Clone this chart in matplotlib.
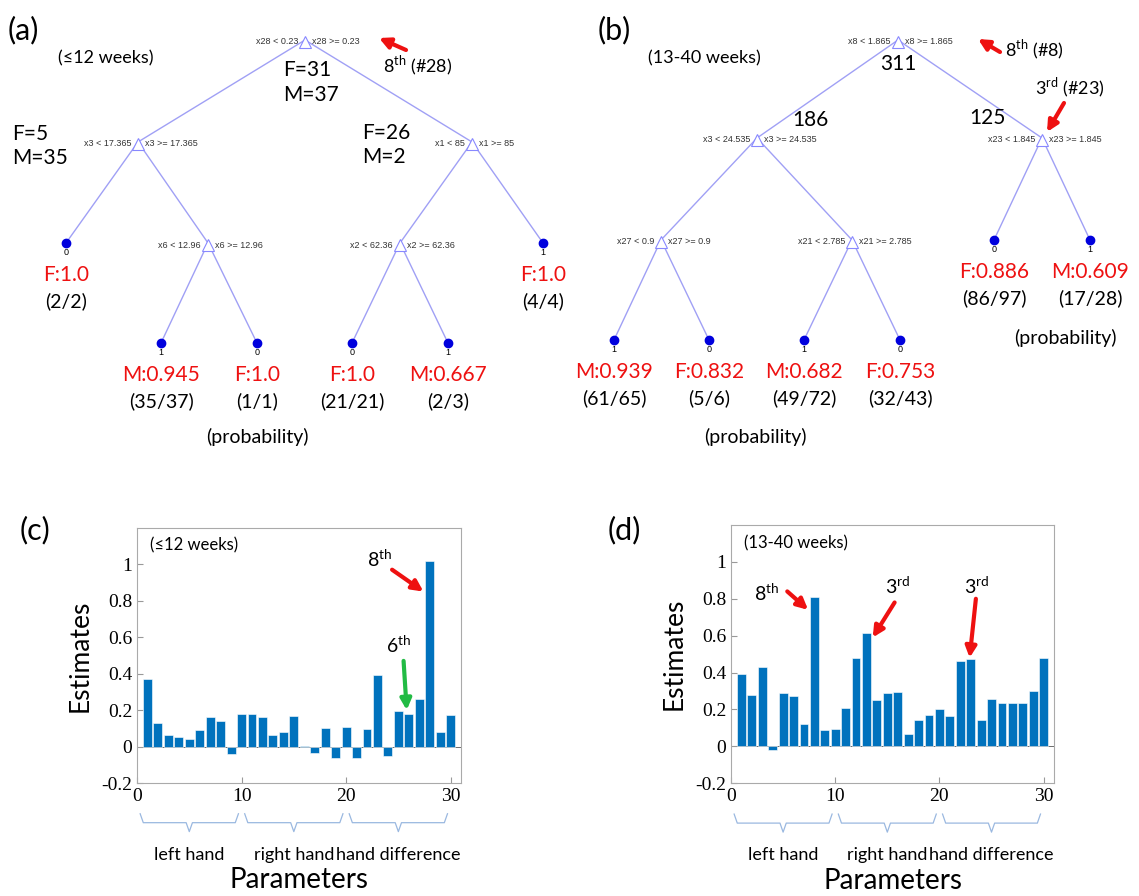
import numpy as np
import matplotlib
matplotlib.use("Agg")
import matplotlib.pyplot as plt
from matplotlib.transforms import blended_transform_factory

# =====================================================
# DATA
# =====================================================

params = np.arange(1, 31)
est_early = [0.37, 0.13, 0.065, 0.055, 0.04, 0.09, 0.16, 0.14, -0.04, 0.18,
             0.18, 0.16, 0.065, 0.08, 0.17, 0.003, -0.035, 0.10, -0.065, 0.11,
             -0.065, 0.095, 0.395, -0.05, 0.195, 0.18, 0.26, 1.015, 0.08, 0.175]
est_late = [0.39, 0.28, 0.43, -0.02, 0.29, 0.275, 0.12, 0.81, 0.09, 0.095,
            0.21, 0.48, 0.615, 0.25, 0.29, 0.295, 0.065, 0.145, 0.17, 0.20,
            0.165, 0.465, 0.475, 0.145, 0.255, 0.235, 0.235, 0.235, 0.30, 0.48]
groups = ["left hand", "right hand", "hand difference"]
group_ranges = [(0, 10), (10, 20), (20, 30)]

# tree (a): split nodes (x, y, left text, right text)
splits_a = [(305, 40, "x28 < 0.23", "x28 >= 0.23"),
            (138, 142, "x3 < 17.365", "x3 >= 17.365"),
            (472, 142, "x1 < 85", "x1 >= 85"),
            (208, 243, "x6 < 12.96", "x6 >= 12.96"),
            (400, 243, "x2 < 62.36", "x2 >= 62.36")]
edges_a = [(0, 1), (0, 2), (1, "l0"), (1, 3), (2, 4), (2, "l1"),
           (3, "l2"), (3, "l3"), (4, "l4"), (4, "l5")]
leaves_a = {"l0": (66, 243, "0", "F:1.0", "(2/2)"),
            "l1": (543, 243, "1", "F:1.0", "(4/4)"),
            "l2": (161, 343, "1", "M:0.945", "(35/37)"),
            "l3": (257, 343, "0", "F:1.0", "(1/1)"),
            "l4": (352, 343, "0", "F:1.0", "(21/21)"),
            "l5": (448, 343, "1", "M:0.667", "(2/3)")}

# tree (b)
splits_b = [(898, 40, "x8 < 1.865", "x8 >= 1.865"),
            (757, 138, "x3 < 24.535", "x3 >= 24.535"),
            (1042, 138, "x23 < 1.845", "x23 >= 1.845"),
            (661, 240, "x27 < 0.9", "x27 >= 0.9"),
            (852, 240, "x21 < 2.785", "x21 >= 2.785")]
edges_b = [(0, 1), (0, 2), (1, 3), (1, 4), (2, "l0"), (2, "l1"),
           (3, "l2"), (3, "l3"), (4, "l4"), (4, "l5")]
leaves_b = {"l0": (994, 240, "0", "F:0.886", "(86/97)"),
            "l1": (1090, 240, "1", "M:0.609", "(17/28)"),
            "l2": (614, 340, "1", "M:0.939", "(61/65)"),
            "l3": (709, 340, "0", "F:0.832", "(5/6)"),
            "l4": (804, 340, "1", "M:0.682", "(49/72)"),
            "l5": (900, 340, "0", "F:0.753", "(32/43)")}

BAR = "#0072BD"
LINE = "#a0a0f5"
SMALL = "Liberation Sans"
SERIF = "Liberation Serif"

plt.rcParams['font.family'] = ['Lato', 'DejaVu Sans']
plt.rcParams['mathtext.fontset'] = 'custom'
plt.rcParams['mathtext.rm'] = 'Lato'

fig = plt.figure(figsize=(11.39, 8.96), dpi=100)
ov = fig.add_axes([0, 0, 1, 1])
ov.set_xlim(0, 1139)
ov.set_ylim(896, 0)
ov.axis("off")


def draw_tree(splits, edges, leaves):
    def pos(k):
        if isinstance(k, str):
            return leaves[k][:2]
        return splits[k][:2]
    for a, b in edges:
        (x0, y0), (x1, y1) = pos(a), pos(b)
        ov.plot([x0, x1], [y0, y1], color=LINE, lw=1, zorder=1)
    for x, y, lt, rt in splits:
        ov.plot(x, y + 2, marker="^", ms=9, mfc="white", mec="#8888ff", mew=0.8, zorder=3)
        ov.text(x - 7, y + 2, lt, ha="right", va="center", fontsize=6.5,
                color="#333333", family=SMALL)
        ov.text(x + 7, y + 2, rt, ha="left", va="center", fontsize=6.5,
                color="#333333", family=SMALL)
    for x, y, cls, prob, frac in leaves.values():
        ov.plot(x, y, "o", ms=6, color="#0000dd", zorder=3)
        ov.text(x, y + 5, cls, ha="center", va="top", fontsize=6.5, family=SMALL)
        ov.text(x, y + 32, prob, ha="center", va="center", fontsize=15, color="#ee1111")
        ov.text(x, y + 58, frac, ha="center", va="center", fontsize=14)


def red_arrow(x0, y0, x1, y1, color="#ee1111"):
    ov.annotate("", xy=(x1, y1), xytext=(x0, y0),
                arrowprops=dict(arrowstyle="-|>", color=color, lw=3, mutation_scale=16,
                                shrinkA=0, shrinkB=0))


draw_tree(splits_a, edges_a, leaves_a)
draw_tree(splits_b, edges_b, leaves_b)

big = dict(fontsize=15, va="center")
ov.text(8, 30, "(a)", fontsize=22, va="center")
ov.text(58, 58, "(≤12 weeks)", fontsize=13, va="center")
ov.text(283, 70, "F=31", **big)
ov.text(283, 95, "M=37", **big)
ov.text(383, 66, "8$^{\\rm th}$ (#28)", fontsize=13, va="center")
red_arrow(406, 50, 379, 38)
ov.text(12, 134, "F=5", **big)
ov.text(12, 158, "M=35", **big)
ov.text(362, 133, "F=26", **big)
ov.text(362, 157, "M=2", **big)
ov.text(257, 437, "(probability)", fontsize=14, ha="center", va="center")

ov.text(598, 30, "(b)", fontsize=22, va="center")
ov.text(648, 58, "(13-40 weeks)", fontsize=13, va="center")
ov.text(898, 64, "311", ha="center", **big)
ov.text(1005, 50, "8$^{\\rm th}$ (#8)", fontsize=13, va="center")
red_arrow(1000, 52, 978, 39)
ov.text(1035, 88, "3$^{\\rm rd}$ (#23)", fontsize=13, va="center")
red_arrow(1064, 103, 1047, 132)
ov.text(810, 120, "186", ha="center", **big)
ov.text(987, 118, "125", ha="center", **big)
ov.text(1065, 338, "(probability)", fontsize=14, ha="center", va="center")
ov.text(755, 437, "(probability)", fontsize=14, ha="center", va="center")

ov.text(20, 530, "(c)", fontsize=22, va="center")
ov.text(608, 530, "(d)", fontsize=22, va="center")


def bar_panel(rect, values, label, notes):
    ax = fig.add_axes(rect)
    ax.bar(params, values, width=0.85, color=BAR, edgecolor="white", lw=0.4, zorder=2)
    ax.axhline(0, color="#555555", lw=0.6, zorder=1)
    ax.set_xlim(0, 31)
    ax.set_ylim(-0.2, 1.2)
    ax.set_xticks([0, 10, 20, 30])
    ax.set_yticks([-0.2, 0, 0.2, 0.4, 0.6, 0.8, 1])
    ax.set_yticklabels(["-0.2", "0", "0.2", "0.4", "0.6", "0.8", "1"])
    ax.tick_params(direction="in", colors="#999999", labelcolor="black", labelsize=14, length=4)
    for lab in ax.get_xticklabels() + ax.get_yticklabels():
        lab.set_fontfamily(SERIF)
    for s in ax.spines.values():
        s.set_color("#aaaaaa")
    ax.set_ylabel("Estimates", fontsize=19, labelpad=6)
    ax.text(0.04, 0.93, label, transform=ax.transAxes, fontsize=12, va="center")
    for txt, tx, ty, ax0, ay0, ax1, ay1, col in notes:
        ax.text(tx, ty, txt, fontsize=14, ha="center", va="center")
        ax.annotate("", xy=(ax1, ay1), xytext=(ax0, ay0),
                    arrowprops=dict(arrowstyle="-|>", color=col, lw=3, mutation_scale=16,
                                    shrinkA=0, shrinkB=0))
    # curly braces under the axis
    tr = blended_transform_factory(ax.transData, ax.transAxes)
    for (a, b), g in zip(group_ranges, groups):
        a, b = a + 0.3, b - 0.3
        m = (a + b) / 2
        xs = [a, a + 0.3, m - 0.3, m, m + 0.3, b - 0.3, b]
        ys = [-0.12, -0.155, -0.155, -0.19, -0.155, -0.155, -0.12]
        ax.plot(xs, ys, transform=tr, color="#9ab8e0", lw=0.9, clip_on=False)
        ax.text(m, -0.28, g, transform=tr, ha="center", va="center", fontsize=13)
    ax.text(0.5, -0.38, "Parameters", transform=ax.transAxes, ha="center",
            va="center", fontsize=20)
    return ax


notes_c = [("8$^{\\rm th}$", 23.2, 1.03, 24.4, 0.97, 27.4, 0.85, "#ee1111"),
           ("6$^{\\rm th}$", 25.0, 0.56, 25.5, 0.47, 25.8, 0.2, "#22bb44")]
notes_d = [("8$^{\\rm th}$", 3.4, 0.83, 5.4, 0.84, 7.4, 0.74, "#ee1111"),
           ("3$^{\\rm rd}$", 16.0, 0.87, 15.7, 0.78, 13.6, 0.59, "#ee1111"),
           ("3$^{\\rm rd}$", 23.6, 0.87, 23.5, 0.80, 22.9, 0.48, "#ee1111")]

bar_panel([0.1203, 0.126, 0.2845, 0.285], est_early, "(≤12 weeks)", notes_c)
bar_panel([0.6418, 0.126, 0.2836, 0.288], est_late, "(13-40 weeks)", notes_d)

fig.savefig("out.png", dpi=100)
